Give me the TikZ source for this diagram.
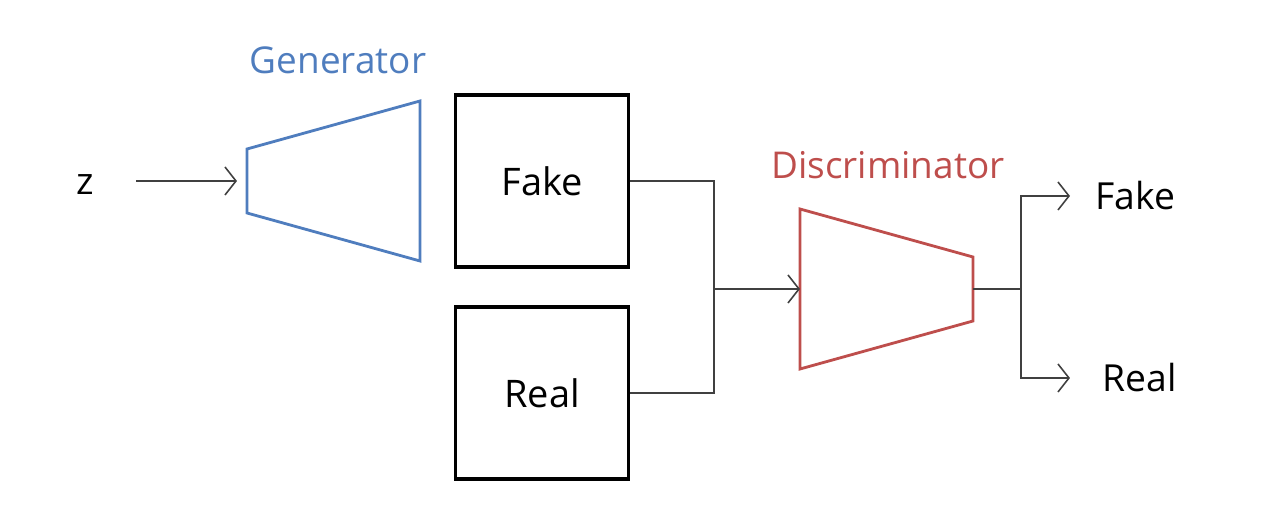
\documentclass[tikz,border=0pt]{standalone}
\usepackage{fontspec}
\setmainfont{Open Sans}
\usetikzlibrary{arrows.meta}
\definecolor{genblue}{RGB}{79,125,190}
\definecolor{discred}{RGB}{190,78,76}
\tikzset{
  box/.style={draw, line width=0.9pt, minimum width=1.73cm, minimum height=1.72cm, font=\fontsize{10.8}{13}\selectfont},
  link/.style={draw=black!75, line width=0.45pt},
  tip/.style={-{Straight Barb[length=1.1mm,width=2.8mm]}},
  lbl/.style={font=\fontsize{10.6}{13}\selectfont, inner sep=0pt}
}
\begin{document}
\begin{tikzpicture}[x=0.01cm, y=-0.01cm]
  \useasboundingbox (0,0) rectangle (1270,528);

  % Draw the generator
  \def\gx{247}
  \def\gy{181}
  \draw[genblue, line width=0.8pt] (\gx, \gy - 32) -- (\gx + 173, \gy - 80) -- (\gx + 173, \gy + 80) -- (\gx, \gy + 32) -- cycle;
  \coordinate (gin) at (\gx, \gy);
  \node[lbl, text=genblue, font=\fontsize{10.5}{12}\selectfont] (genlbl) at (\gx + 91, 60) {Generator};

  % Draw the discriminator
  \def\dx{800}
  \def\dy{289}
  \draw[discred, line width=0.8pt] (\dx, \dy - 80) -- (\dx + 173, \dy - 32) -- (\dx + 173, \dy + 32) -- (\dx, \dy + 80) -- cycle;
  \coordinate (din) at (\dx, \dy);
  \coordinate (dout) at (\dx + 173, \dy);
  \node[lbl, text=discred, font=\fontsize{10.5}{12}\selectfont] (disclbl) at (\dx + 88, 165) {Discriminator};

  % the input and the two boxes
  \node[lbl] (z) at (85, 185) {z};
  \node[box] (fake) at (542, 181) {Fake};
  \node[box] (real) at (542, 393) {Real};
  \coordinate (join) at (714, \dy);
  \coordinate (split) at (1021, \dy);

  \draw[link, tip, shorten <=0.42cm, shorten >=0.1cm] (z.east |- gin) -- (gin);
  \draw[link] (fake.east) -| (join);
  \draw[link] (real.east) -| (join);
  \draw[link, tip] (join) -- (din);
  \draw[link] (dout) -- (split);

  % outputs
  \node[lbl, anchor=west] (ofake) at (1095, 196) {Fake};
  \node[lbl, anchor=west] (oreal) at (1102, 378) {Real};
  \draw[link, tip, shorten >=0.25cm] (split) |- (ofake.west);
  \draw[link, tip, shorten >=0.32cm] (split) |- (oreal.west);

\end{tikzpicture}
\end{document}
